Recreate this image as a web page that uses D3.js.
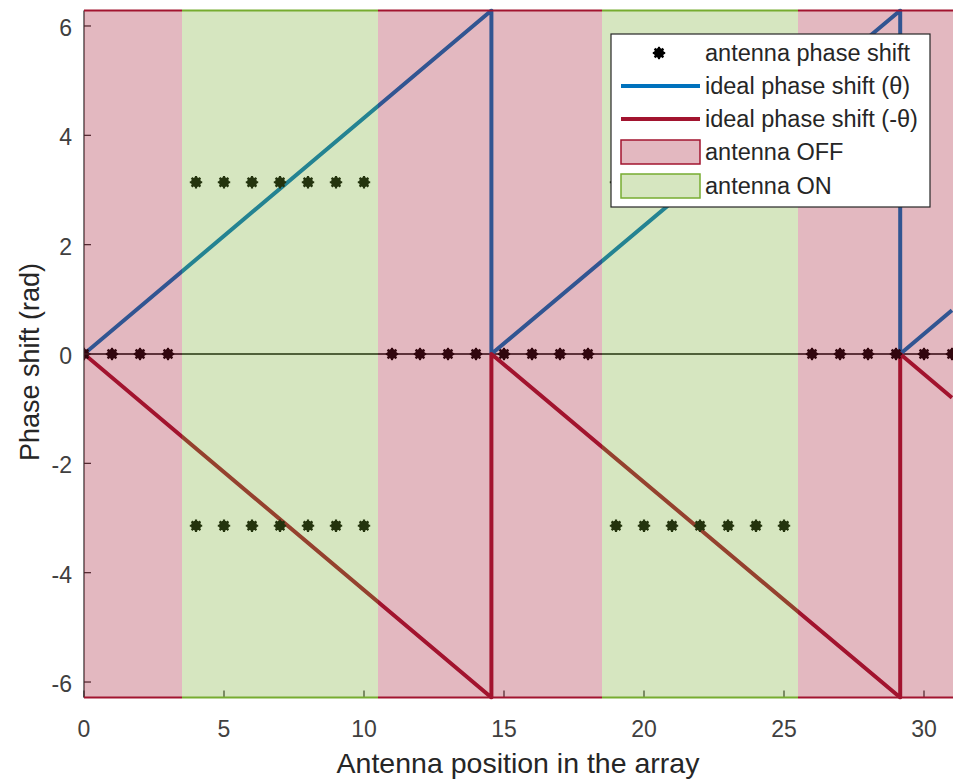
<!DOCTYPE html>
<html>
<head>
<meta charset="utf-8">
<script src="https://cdn.jsdelivr.net/npm/d3@7"></script>
<style>
  html, body { margin: 0; padding: 0; background: #fff; }
  svg { display: block; font-family: "Liberation Sans", Arial, Helvetica, sans-serif; }
</style>
</head>
<body>
<svg id="chart" width="953" height="781"></svg>
<script>
// Antenna index along the array
const positions = [0,1,2,3,4,5,6,7,8,9,10,11,12,13,14,15,16,17,18,19,20,21,22,23,24,25,26,27,28,29,30,31];
const PI = Math.PI;
// Applied phase shift of each antenna (two symmetric values when the antenna is ON)
const phaseUpper = [0,0,0,0,PI,PI,PI,PI,PI,PI,PI,0,0,0,0,0,0,0,0,PI,PI,PI,PI,PI,PI,PI,0,0,0,0,0,0];
const phaseLower = [0,0,0,0,-PI,-PI,-PI,-PI,-PI,-PI,-PI,0,0,0,0,0,0,0,0,-PI,-PI,-PI,-PI,-PI,-PI,-PI,0,0,0,0,0,0];

// Ideal (wrapped) phase shift: breakpoints of the sawtooth
const idealX = [0, 14.55, 14.55, 29.15, 29.15, 31];
const idealTheta = [0, 2 * PI, 0, 2 * PI, 0, 0.80];
const idealNegTheta = [0, -2 * PI, 0, -2 * PI, 0, -0.80];

// ON / OFF regions of the array
const bandStart = [0, 3.5, 10.5, 18.5, 25.5];
const bandEnd = [3.5, 10.5, 18.5, 25.5, 31];
const bandState = ["OFF", "ON", "OFF", "ON", "OFF"];

const xTicks = [0, 5, 10, 15, 20, 25, 30];
const yTicks = [-6, -4, -2, 0, 2, 4, 6];

const legendLabels = ["antenna phase shift", "ideal phase shift (\u03b8)", "ideal phase shift (-\u03b8)", "antenna OFF", "antenna ON"];

const colBlue = "#0072BD", colRed = "#A2142F", colGreen = "#77AC30";
const bandColor = { OFF: colRed, ON: colGreen };
const textCol = "#262626";

const svg = d3.select("#chart");
const pLeft = 84, pRight = 952, pTop = 10.5, pBottom = 697.5;

const x = d3.scaleLinear().domain([0, 31]).range([pLeft, pRight]);
const y = d3.scaleLinear().domain([-2 * PI, 2 * PI]).range([pBottom, pTop]);

svg.append("defs").append("clipPath").attr("id", "plotClip")
  .append("rect").attr("x", pLeft).attr("y", pTop - 2).attr("width", pRight - pLeft + 2).attr("height", pBottom - pTop + 4);

const plot = svg.append("g").attr("clip-path", "url(#plotClip)");

// zero reference line
plot.append("line")
  .attr("x1", x(0)).attr("x2", x(31)).attr("y1", y(0)).attr("y2", y(0))
  .attr("stroke", "#000").attr("stroke-width", 1.3);

// ideal phase curves
const line = d3.line().x(d => x(d[0])).y(d => y(d[1]));
plot.append("path")
  .datum(idealX.map((v, i) => [v, idealTheta[i]]))
  .attr("d", line).attr("fill", "none").attr("stroke", colBlue)
  .attr("stroke-width", 4).attr("stroke-linejoin", "round");
plot.append("path")
  .datum(idealX.map((v, i) => [v, idealNegTheta[i]]))
  .attr("d", line).attr("fill", "none").attr("stroke", colRed)
  .attr("stroke-width", 4).attr("stroke-linejoin", "round");

// thick asterisk marker
function drawMarker(g, cx, cy) {
  const m = g.append("g").attr("transform", `translate(${cx},${cy})`);
  m.append("circle").attr("r", 5).attr("fill", "#000");
  for (let k = 0; k < 4; k++) {
    const a = k * Math.PI / 4;
    const r = 6.2;
    m.append("line")
      .attr("x1", -r * Math.cos(a)).attr("y1", -r * Math.sin(a))
      .attr("x2", r * Math.cos(a)).attr("y2", r * Math.sin(a))
      .attr("stroke", "#000").attr("stroke-width", 2.2);
  }
}
positions.forEach((p, i) => {
  drawMarker(plot, x(p), y(phaseUpper[i]));
  if (phaseLower[i] !== phaseUpper[i]) drawMarker(plot, x(p), y(phaseLower[i]));
});

// axes (drawn beneath the translucent regions)
const axG = svg.append("g");
axG.append("line").attr("x1", pLeft).attr("x2", pLeft).attr("y1", pTop).attr("y2", pBottom)
  .attr("stroke", textCol).attr("stroke-width", 1.2);
axG.append("line").attr("x1", pLeft).attr("x2", pRight + 1).attr("y1", pBottom).attr("y2", pBottom)
  .attr("stroke", textCol).attr("stroke-width", 1.2);
yTicks.forEach(t => {
  axG.append("line").attr("x1", pLeft).attr("x2", pLeft + 7).attr("y1", y(t)).attr("y2", y(t))
    .attr("stroke", textCol).attr("stroke-width", 1.2);
});
xTicks.forEach(t => {
  axG.append("line").attr("x1", x(t)).attr("x2", x(t)).attr("y1", pBottom).attr("y2", pBottom - 7)
    .attr("stroke", textCol).attr("stroke-width", 1.2);
});

// ON / OFF regions
const bands = bandStart.map((s, i) => ({ s, e: bandEnd[i], state: bandState[i] }));
svg.append("g").selectAll("rect").data(bands).join("rect")
  .attr("x", d => x(d.s)).attr("width", d => x(d.e) - x(d.s) + (d.e === 31 ? 1 : 0))
  .attr("y", pTop).attr("height", pBottom - pTop)
  .attr("fill", d => bandColor[d.state]).attr("fill-opacity", 0.3);
const edges = svg.append("g");
bands.forEach(d => {
  [pTop, pBottom].forEach(yy => {
    edges.append("line")
      .attr("x1", x(d.s)).attr("x2", x(d.e) + (d.e === 31 ? 1 : 0))
      .attr("y1", yy).attr("y2", yy)
      .attr("stroke", bandColor[d.state]).attr("stroke-width", 2);
  });
});

// tick labels
const labG = svg.append("g").attr("fill", "#404040").style("font-size", "23px");
yTicks.forEach(t => {
  labG.append("text").attr("x", 72).attr("y", y(t) + 2).attr("text-anchor", "end")
    .attr("dominant-baseline", "central").text(t);
});
xTicks.forEach(t => {
  labG.append("text").attr("x", x(t)).attr("y", 737).attr("text-anchor", "middle").text(t);
});

// axis titles
svg.append("text").attr("x", 518).attr("y", 773).attr("text-anchor", "middle")
  .attr("fill", textCol).style("font-size", "28.5px").text("Antenna position in the array");
svg.append("text").attr("transform", "translate(39,362) rotate(-90)").attr("text-anchor", "middle")
  .attr("fill", textCol).style("font-size", "27px").text("Phase shift (rad)");

// legend
const lg = svg.append("g");
lg.append("rect").attr("x", 611).attr("y", 34).attr("width", 319).attr("height", 173)
  .attr("fill", "#fff").attr("stroke", "#262626").attr("stroke-width", 1.2);
const rowY = [53, 86, 119, 152, 186];
drawMarker(lg, 659, rowY[0]);
lg.append("line").attr("x1", 621).attr("x2", 700).attr("y1", rowY[1]).attr("y2", rowY[1])
  .attr("stroke", colBlue).attr("stroke-width", 4);
lg.append("line").attr("x1", 621).attr("x2", 700).attr("y1", rowY[2]).attr("y2", rowY[2])
  .attr("stroke", colRed).attr("stroke-width", 4);
["OFF", "ON"].forEach((s, k) => {
  lg.append("rect").attr("x", 621).attr("y", rowY[3 + k] - 12).attr("width", 79).attr("height", 24)
    .attr("fill", bandColor[s]).attr("fill-opacity", 0.3)
    .attr("stroke", bandColor[s]).attr("stroke-width", 1.5);
});
legendLabels.forEach((t, i) => {
  lg.append("text").attr("x", 705).attr("y", rowY[i]).attr("dominant-baseline", "central")
    .attr("fill", textCol).style("font-size", "23.5px").text(t);
});
</script>
</body>
</html>
